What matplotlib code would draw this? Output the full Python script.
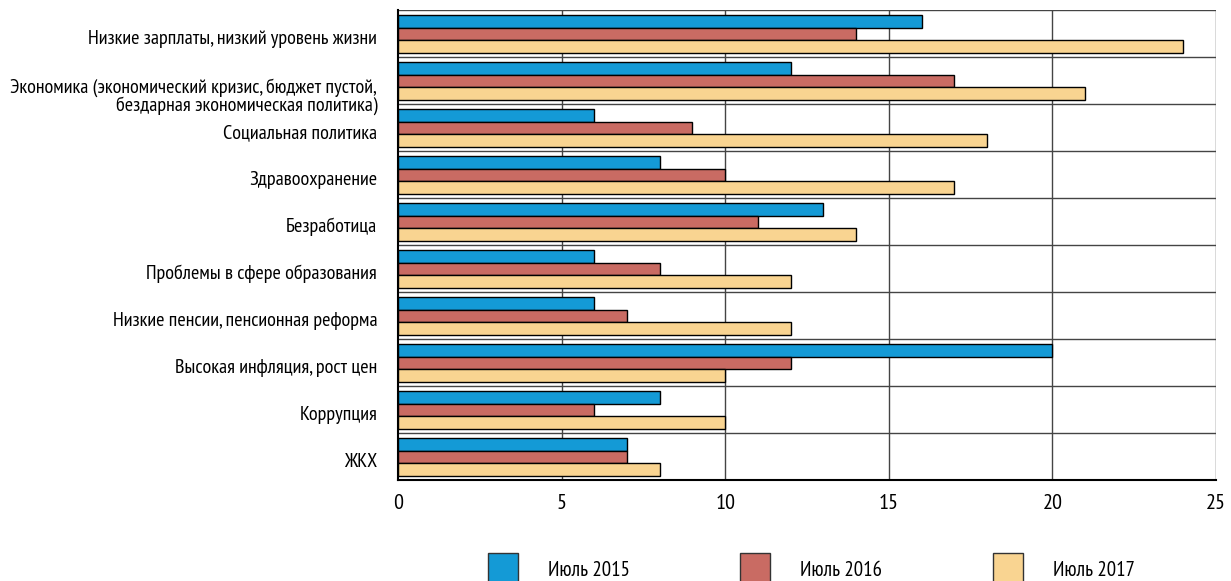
import numpy as np
import matplotlib
matplotlib.use("Agg")
import matplotlib.pyplot as plt
from matplotlib.patches import Patch

plt.rcParams['font.family'] = ['PT Sans Narrow', 'Roboto Condensed', 'DejaVu Sans']

# problems named by respondents, % of answers
categories = [
    'Низкие зарплаты, низкий уровень жизни',
    'Экономика (экономический кризис, бюджет пустой,\nбездарная экономическая политика)',
    'Социальная политика',
    'Здравоохранение',
    'Безработица',
    'Проблемы в сфере образования',
    'Низкие пенсии, пенсионная реформа',
    'Высокая инфляция, рост цен',
    'Коррупция',
    'ЖКХ',
]
series_names = ['Июль 2015', 'Июль 2016', 'Июль 2017']
jul_2015 = [16, 12, 6, 8, 13, 6, 6, 20, 8, 7]
jul_2016 = [14, 17, 9, 10, 11, 8, 7, 12, 6, 7]
jul_2017 = [24, 21, 18, 17, 14, 12, 12, 10, 10, 8]
colors = ['#149ad6', '#c96b63', '#f9d491']
x_ticks = [0, 5, 10, 15, 20, 25]

fig = plt.figure(figsize=(12.31, 5.81), dpi=100)
ax = fig.add_axes([0.3233, 0.1738, 0.6645, 0.809])

y = np.arange(len(categories))
h = 0.27
for k, (vals, col) in enumerate(zip([jul_2015, jul_2016, jul_2017], colors)):
    ax.barh(y + (k - 1) * h + 0.01, vals, height=h, color=col,
            edgecolor='black', linewidth=1, zorder=3)

# grid: vertical at ticks, horizontal between groups
for xv in x_ticks[1:]:
    ax.axvline(xv, color='#444444', linewidth=1, zorder=1)
for yv in np.arange(-0.5, len(categories), 1.0):
    ax.axhline(yv, color='#444444', linewidth=1, zorder=1)

ax.set_xlim(0, 25)
ax.set_ylim(len(categories) - 0.5, -0.5)
ax.set_xticks(x_ticks)
label_y = y + 0.07
label_y[1] += 0.23  # two-line label sits lower in its group
ax.set_yticks(label_y)
ax.set_yticklabels(categories, linespacing=0.95)
ax.tick_params(axis='both', length=0)
ax.tick_params(axis='y', pad=15, labelsize=14.5)
ax.tick_params(axis='x', pad=10, labelsize=16)
for s in ['top', 'right']:
    ax.spines[s].set_visible(False)
for s in ['left', 'bottom']:
    ax.spines[s].set_linewidth(1.5)

handles = [Patch(facecolor=c, edgecolor='#333333') for c in colors]
fig.legend(handles, series_names, loc='lower left', ncol=3, frameon=False,
           fontsize=15, bbox_to_anchor=(488 / 1231, -0.008), borderpad=0,
           borderaxespad=0, handlelength=1.44, handleheight=2.05,
           handletextpad=1.44, columnspacing=5.3)

fig.savefig('out.png', dpi=100)
